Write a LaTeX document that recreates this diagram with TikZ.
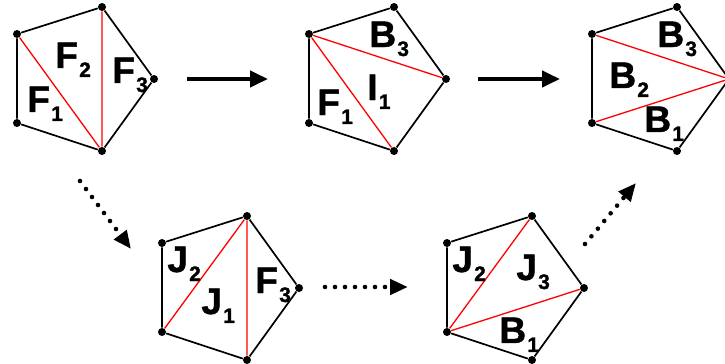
\documentclass[tikz,border=0pt]{standalone}
\usepackage{fontspec}
\setmainfont{Liberation Sans}
\newfontfamily\facefont[FakeBold=1.2]{Liberation Sans}
\usetikzlibrary{arrows.meta}

\newcommand{\facelbl}[2]{#1\kern0.6pt\raisebox{-4.5pt}{\fontsize{10.5}{11}\selectfont #2}}

\tikzset{
  edge/.style={line width=0.85pt},
  diag/.style={red, line width=0.65pt},
  vdot/.style={circle, fill=black, inner sep=0pt, minimum size=4pt},
  face/.style={anchor=base west, inner sep=0pt, font=\facefont\fontsize{18.5}{19}\selectfont\bfseries},
  flip/.style={line width=2pt, -{Triangle[length=9pt,width=8pt]}},
  detour/.style={line width=2.3pt, line cap=round, dash pattern=on 0pt off 5pt, -{Triangle[length=9pt,width=7.5pt]}}
}

\begin{document}
\begin{tikzpicture}[x=0.5pt, y=-0.5pt]
\useasboundingbox (0,0) rectangle (725,364);

% vertices: a top left, b top, c right, d bottom, e bottom left
\foreach \n/\dx/\dy in {p/0/0, q/292/0, r/575/0, s/145/209, t/430/209} {
  \node[vdot] (\n a) at (17+\dx,34+\dy) {};
  \node[vdot] (\n b) at (102+\dx,7+\dy) {};
  \node[vdot] (\n c) at (154+\dx,79+\dy) {};
  \node[vdot] (\n d) at (102+\dx,151+\dy) {};
  \node[vdot] (\n e) at (17+\dx,123+\dy) {};
}

% diagonals
\draw[diag] (pa) -- (pd) (pb) -- (pd);
\draw[diag] (qa) -- (qd) (qa) -- (qc);
\draw[diag] (ra) -- (rc) (re) -- (rc);
\draw[diag] (se) -- (sb) (sb) -- (sd);
\draw[diag] (te) -- (tb) (te) -- (tc);

% outlines
\foreach \n in {p,q,r,s,t}
  \draw[edge] (\n a) -- (\n b) -- (\n c) -- (\n d) -- (\n e) -- (\n a);

% faces
\node[face] (pF2) at (55,68) {\facelbl{F}{2}};
\node[face] (pF1) at (27,112) {\facelbl{F}{1}};
\node[face] (pF3) at (112,83) {\facelbl{F}{3}};

\node[face] (qB3) at (369,47) {\facelbl{B}{3}};
\node[face] (qI1) at (367,100) {\facelbl{I}{1}};
\node[face] (qF1) at (317,115) {\facelbl{F}{1}};

\node[face] (rB3) at (657,47) {\facelbl{B}{3}};
\node[face] (rB2) at (609,88) {\facelbl{B}{2}};
\node[face] (rB1) at (644,132) {\facelbl{B}{1}};

\node[face] (sJ2) at (167,272) {\facelbl{J}{2}};
\node[face] (sJ1) at (201,314) {\facelbl{J}{1}};
\node[face] (sF3) at (255,293) {\facelbl{F}{3}};

\node[face] (tJ2) at (452,272) {\facelbl{J}{2}};
\node[face] (tJ3) at (516,280) {\facelbl{J}{3}};
\node[face] (tB1) at (499,343) {\facelbl{B}{1}};

% arrows
\coordinate (pq-from) at (187,79);
\coordinate (pq-to) at (268,79);
\coordinate (qr-from) at (478,79);
\coordinate (qr-to) at (560,79);
\coordinate (ps-from) at (80,181);
\coordinate (ps-to) at (131,249);
\coordinate (st-from) at (325,287);
\coordinate (st-to) at (408,287);
\coordinate (tr-from) at (585,244);
\coordinate (tr-to) at (636,183);

\draw[flip] (pq-from) -- (pq-to);
\draw[flip] (qr-from) -- (qr-to);
\draw[detour] (ps-from) -- (ps-to);
\draw[detour] (st-from) -- (st-to);
\draw[detour] (tr-from) -- (tr-to);
\end{tikzpicture}
\end{document}
